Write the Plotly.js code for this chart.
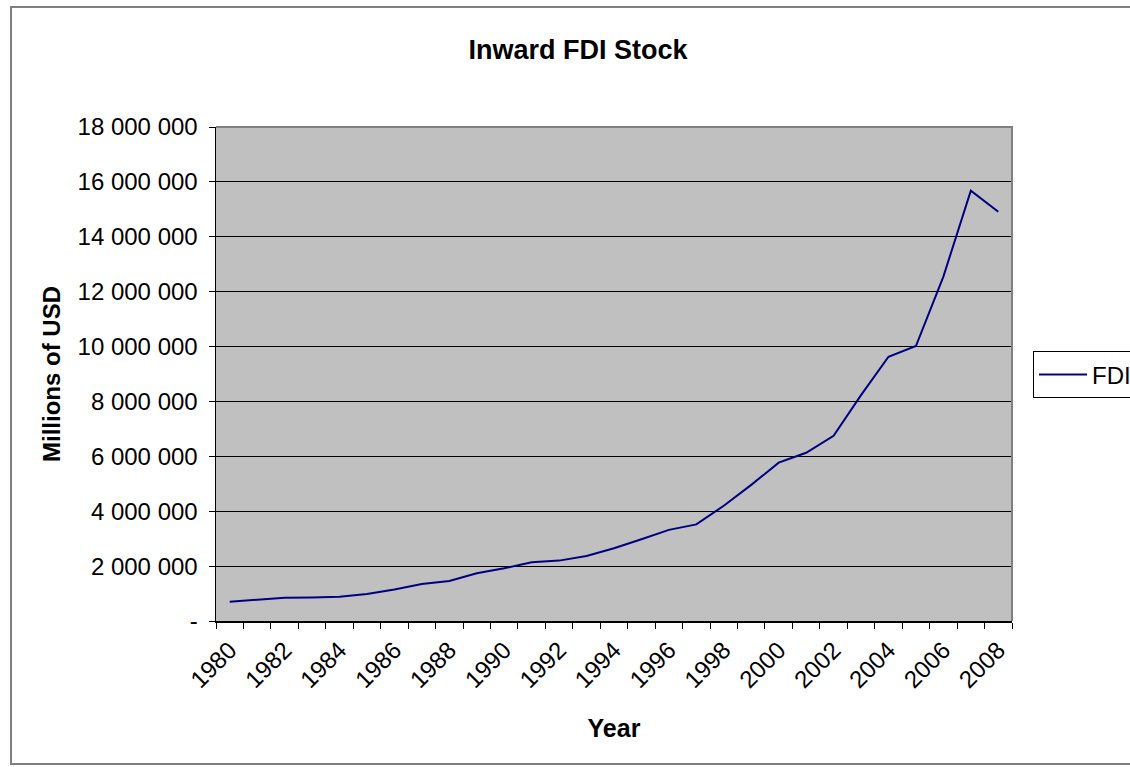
<!DOCTYPE html>
<html>
<head>
<meta charset="utf-8">
<script src="https://cdn.plot.ly/plotly-3.0.1.min.js"></script>
<style>
html,body{margin:0;padding:0;background:#fff;overflow:hidden;}
#wrap{width:1130px;height:767px;overflow:hidden;}
#chart{width:1180px;height:767px;}
</style>
</head>
<body>
<div id="wrap"><div id="chart"></div></div>
<script>
const years = [1980,1981,1982,1983,1984,1985,1986,1987,1988,1989,1990,1991,1992,1993,1994,1995,1996,1997,1998,1999,2000,2001,2002,2003,2004,2005,2006,2007,2008];
const fdi = [700000,765000,850000,860000,885000,980000,1150000,1350000,1460000,1740000,1920000,2140000,2200000,2370000,2650000,2980000,3320000,3520000,4200000,4960000,5770000,6130000,6750000,8230000,9630000,10020000,12550000,15680000,14910000];
const xTickYears = [1980,1982,1984,1986,1988,1990,1992,1994,1996,1998,2000,2002,2004,2006,2008];
const xTickLabels = xTickYears.map(String);
const yTickVals = [0,2000000,4000000,6000000,8000000,10000000,12000000,14000000,16000000,18000000];
const yTickLabels = ['-','2 000 000','4 000 000','6 000 000','8 000 000','10 000 000','12 000 000','14 000 000','16 000 000','18 000 000'];
const seriesName = 'FDI';
const titleText = 'Inward FDI Stock';
const xTitle = 'Year';
const yTitle = 'Millions of USD';

const FONT = 'Liberation Sans, Arial, sans-serif';

const trace = {
  x: years, y: fdi, type: 'scatter', mode: 'lines', name: seriesName,
  line: {color: '#000080', width: 2}
};

const layout = {
  width: 1180, height: 767,
  margin: {l: 216, r: 168, t: 127, b: 146, pad: 0},
  paper_bgcolor: '#ffffff',
  plot_bgcolor: '#c0c0c0',
  font: {family: FONT, color: '#000', size: 24},
  title: {text: '<b>' + titleText + '</b>', font: {family: FONT, size: 27, color: '#000'},
          x: 0.4548, xref: 'paper', xanchor: 'center', y: 0.936, yanchor: 'middle'},
  showlegend: true,
  legend: {x: 1.0264, xanchor: 'left', y: 0.498, yanchor: 'middle',
           bgcolor: '#ffffff', bordercolor: '#000', borderwidth: 1,
           itemwidth: 48,
           font: {family: FONT, size: 24, color: '#000'}},
  xaxis: {
    type: 'linear', range: [years[0] - 0.5, years[years.length-1] + 0.5],
    tickmode: 'array', tickvals: xTickYears, ticktext: xTickLabels,
    tickangle: -45, ticks: '', showgrid: false, zeroline: false,
    showline: true, linecolor: '#000', linewidth: 1.5,
    tickfont: {family: FONT, size: 24, color: '#000'},
    ticklabelstandoff: 4,
    minor: {ticks: 'outside', ticklen: 6, tickwidth: 1, tickcolor: '#000',
            tickmode: 'linear', tick0: years[0] - 0.5, dtick: 1, showgrid: false},
    title: {text: '<b>' + xTitle + '</b>', font: {family: FONT, size: 25, color: '#000'}, standoff: 27},
    fixedrange: true
  },
  yaxis: {
    range: [0, 18000000],
    tickmode: 'array', tickvals: yTickVals, ticktext: yTickLabels,
    ticks: 'outside', ticklen: 6, tickwidth: 1, tickcolor: '#000',
    showgrid: true, gridcolor: '#000', gridwidth: 1, zeroline: false,
    showline: true, linecolor: '#000', linewidth: 1.5,
    tickfont: {family: FONT, size: 24, color: '#000'},
    ticklabelstandoff: 6,
    title: {text: '<b>' + yTitle + '</b>', font: {family: FONT, size: 24, color: '#000'}, standoff: 10},
    fixedrange: true
  },
  shapes: [
    {type: 'path', xref: 'paper', yref: 'paper', path: 'M 0,1 L 1,1 L 1,0',
     line: {color: '#808080', width: 2}, layer: 'above'},
    {type: 'rect', xref: 'paper', yref: 'paper', x0: -0.2575, x1: 1.1608, y0: -0.2895, y1: 1.2429,
     line: {color: '#808080', width: 2}, fillcolor: 'rgba(0,0,0,0)', layer: 'above'}
  ]
};

Plotly.newPlot('chart', [trace], layout, {displayModeBar: false, staticPlot: true});
</script>
</body>
</html>
